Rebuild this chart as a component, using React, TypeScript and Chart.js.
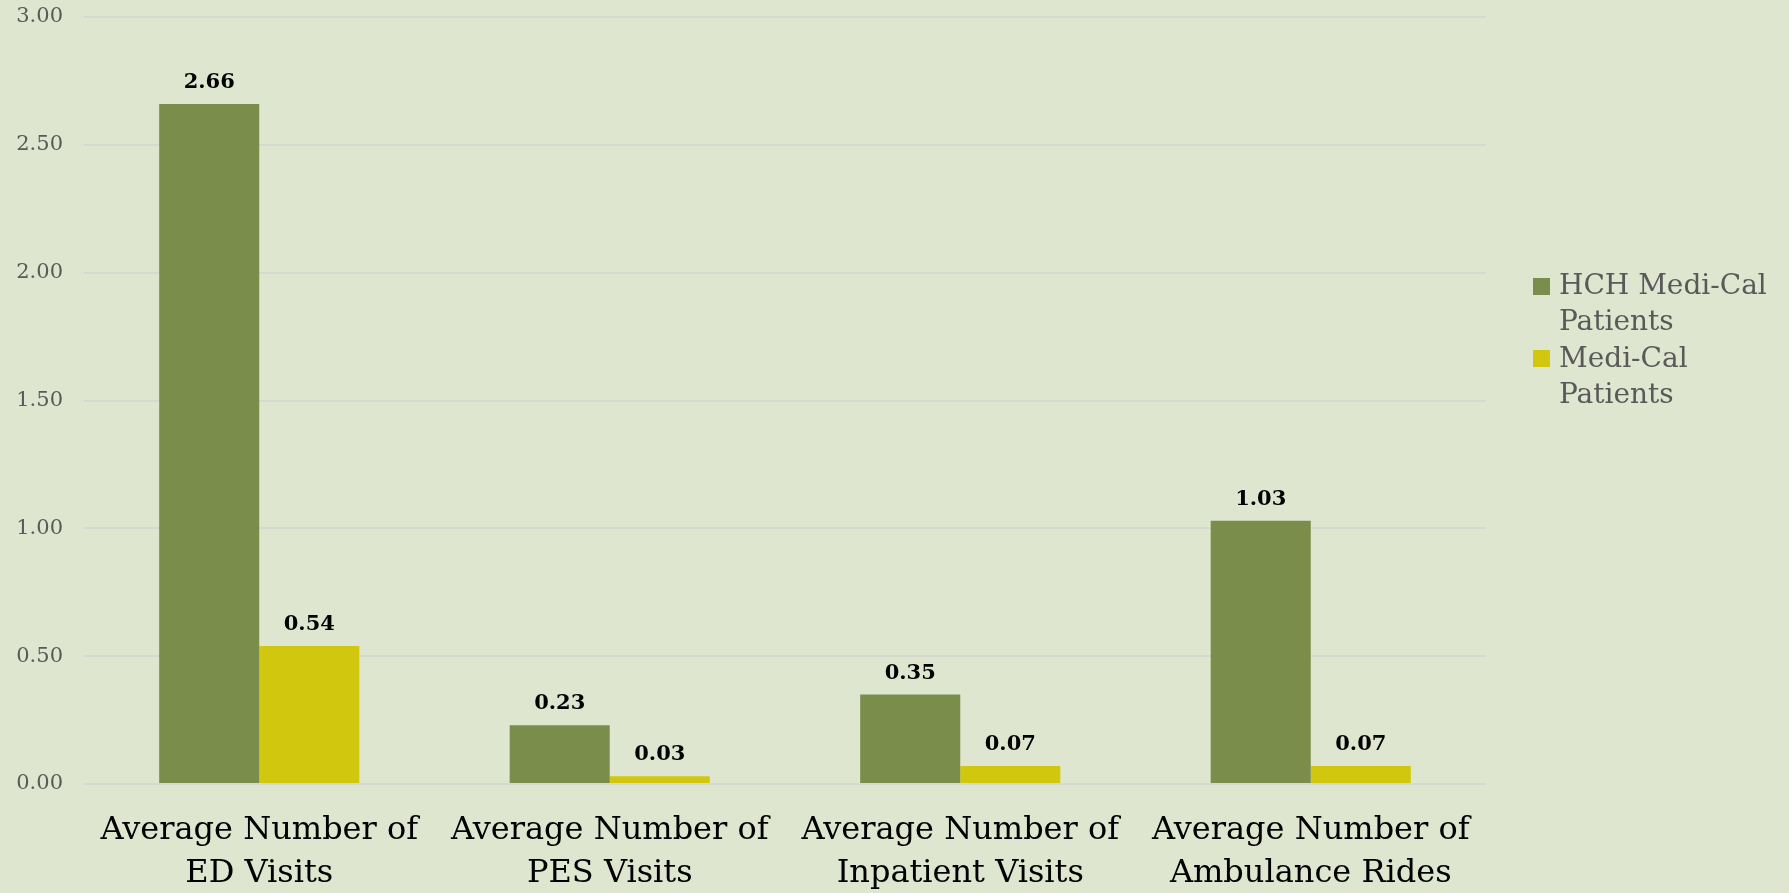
import React, { useEffect, useRef } from "react";
import { Chart, registerables } from "chart.js";

Chart.register(...registerables);

const categories: string[][] = [
  ["Average Number of", "ED Visits"],
  ["Average Number of", "PES Visits"],
  ["Average Number of", "Inpatient Visits"],
  ["Average Number of", "Ambulance Rides"],
];
const seriesNames = ["HCH Medi-Cal Patients", "Medi-Cal Patients"];
const hchValues = [2.66, 0.23, 0.35, 1.03];
const mediCalValues = [0.54, 0.03, 0.07, 0.07];
const seriesColors = ["#7b8d4b", "#d2c70f"];
const yMin = 0;
const yMax = 3;
const yStep = 0.5;

const BG = "#dfe6cf";
const FONT = "'DejaVu Serif', Georgia, serif";

const valueLabels = {
  id: "valueLabels",
  afterDatasetsDraw(chart: any) {
    const ctx = chart.ctx;
    ctx.save();
    ctx.font = `bold 21px ${FONT}`;
    ctx.fillStyle = "#000000";
    ctx.textAlign = "center";
    ctx.textBaseline = "alphabetic";
    chart.data.datasets.forEach((ds: any, i: number) => {
      const meta = chart.getDatasetMeta(i);
      meta.data.forEach((bar: any, j: number) => {
        const v = ds.data[j] as number;
        ctx.fillText(v.toFixed(2), bar.x, bar.y - 16);
      });
    });
    ctx.restore();
  },
};

export default function App() {
  const ref = useRef<HTMLCanvasElement | null>(null);

  useEffect(() => {
    document.body.style.margin = "0";
    const canvas = ref.current;
    if (!canvas) return;
    const chart = new Chart(canvas, {
      type: "bar",
      data: {
        labels: categories,
        datasets: [
          {
            label: seriesNames[0],
            data: hchValues,
            backgroundColor: seriesColors[0],
            barPercentage: 1,
            categoryPercentage: 0.571,
          },
          {
            label: seriesNames[1],
            data: mediCalValues,
            backgroundColor: seriesColors[1],
            barPercentage: 1,
            categoryPercentage: 0.571,
          },
        ],
      },
      options: {
        responsive: false,
        animation: false,
        devicePixelRatio: 1,
        layout: { padding: { left: 14, right: 303, top: 17, bottom: 0 } },
        plugins: {
          legend: { display: false },
          tooltip: { enabled: false },
        },
        scales: {
          x: {
            grid: { display: false },
            border: { display: false },
            ticks: {
              color: "#000000",
              font: { family: FONT, size: 32, lineHeight: 1.34 },
              padding: 17,
              maxRotation: 0,
              autoSkip: false,
            },
            afterFit: (scale: any) => {
              scale.height = 109;
              scale.paddingLeft = 0;
              scale.paddingRight = 0;
            },
          },
          y: {
            min: yMin,
            max: yMax,
            border: { display: false },
            grid: { color: "#d7d9d0", lineWidth: 2, drawTicks: false },
            ticks: {
              stepSize: yStep,
              color: "#595959",
              font: { family: FONT, size: 21 },
              padding: 21,
              callback: (v: any) => Number(v).toFixed(2),
            },
            afterFit: (scale: any) => {
              scale.width = 70;
              scale.paddingTop = 0;
              scale.paddingBottom = 0;
            },
          },
        },
      },
      plugins: [valueLabels],
    });
    return () => chart.destroy();
  }, []);

  const legendItem = (name: string, color: string, top: number, markTop: number) => (
    <div
      style={{
        position: "absolute",
        left: 1533,
        top,
        display: "flex",
        alignItems: "flex-start",
      }}
    >
      <div style={{ width: 17, height: 17, background: color, marginTop: markTop, marginRight: 9, flex: "none" }} />
      <div style={{ width: 225, fontFamily: FONT, fontSize: 28, lineHeight: "36px", color: "#595959" }}>{name}</div>
    </div>
  );

  return (
    <div style={{ position: "relative", width: 1789, height: 893, background: BG, overflow: "hidden" }}>
      <canvas ref={ref} width={1789} height={893} style={{ position: "absolute", left: 0, top: 0, width: 1789, height: 893 }} />
      {legendItem(seriesNames[0], seriesColors[0], 267, 11)}
      {legendItem(seriesNames[1], seriesColors[1], 340, 10)}
    </div>
  );
}
